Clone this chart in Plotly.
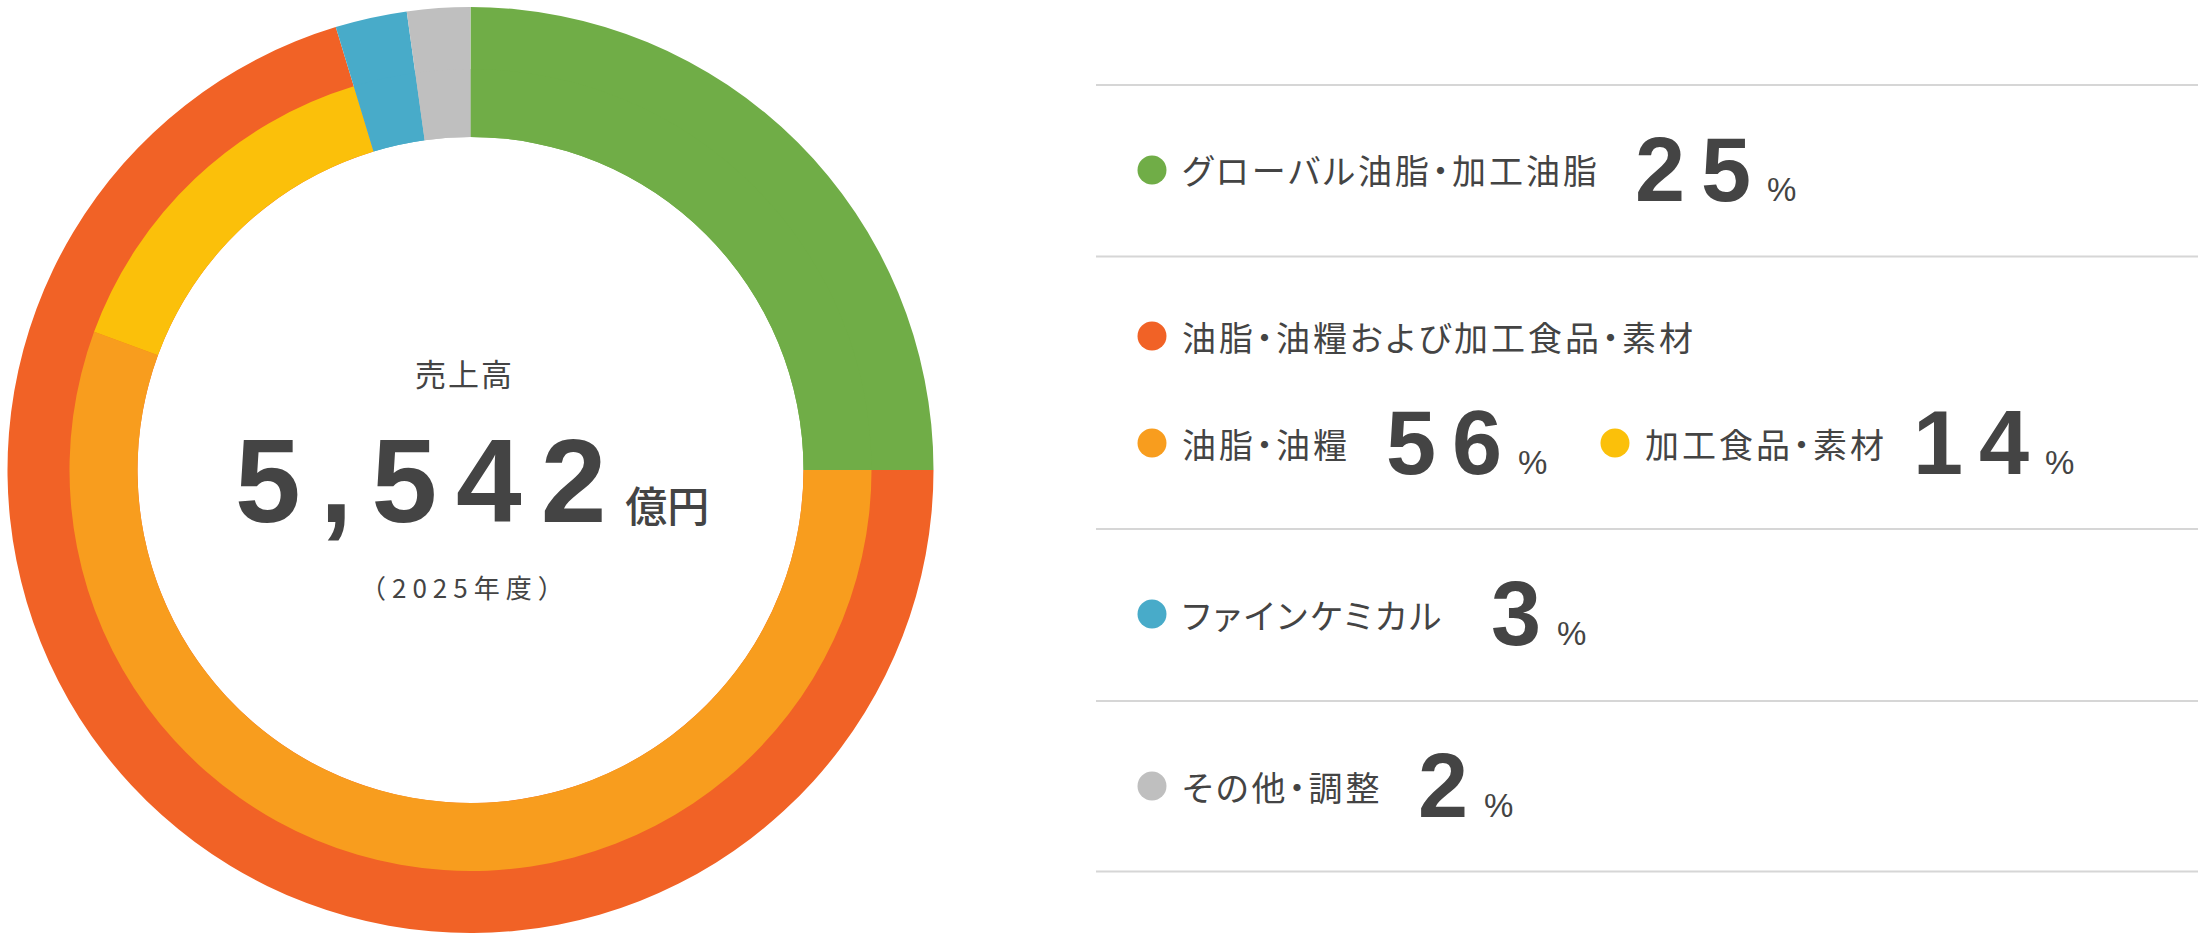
import plotly.graph_objects as go

# ---------------- data ----------------
inner_labels = ["グローバル油脂・加工油脂", "油脂・油糧", "加工食品・素材", "ファインケミカル", "その他・調整"]
inner_values = [25.0, 55.6, 14.7, 2.5, 2.2]
inner_colors = ["#70AD47", "#F89D1E", "#FBC00A", "#48ABC9", "#BFBFBF"]

outer_labels = ["グローバル油脂・加工油脂", "油脂・油糧および加工食品・素材", "ファインケミカル", "その他・調整"]
outer_values = [25.0, 70.3, 2.5, 2.2]
outer_colors = ["#70AD47", "#F16226", "#48ABC9", "#BFBFBF"]

legend_names = ["グローバル油脂・加工油脂", "油脂・油糧および加工食品・素材", "油脂・油糧",
                "加工食品・素材", "ファインケミカル", "その他・調整"]
legend_pct = ["25", "", "56", "14", "3", "2"]
legend_colors = ["#70AD47", "#F16226", "#F89D1E", "#FBC00A", "#48ABC9", "#BFBFBF"]

center_title = "売上高"
center_total = "5,542"
center_unit = "億円"
center_year = "（2025年度）"

# ---------------- layout constants ----------------
W, H = 2198, 940
CX, CY = 470.5, 470
R_OUT, R_MID, R_IN = 463, 401, 333
TXT = "#444444"
JP = "Noto Sans CJK JP"
NUM = "Liberation Sans"


def fx(x):
    return x / W


def fy(y):
    return 1 - y / H


def dom(r):
    return dict(x=[fx(CX - r), fx(CX + r)], y=[fy(CY + r), fy(CY - r)])


fig = go.Figure()
fig.add_trace(go.Pie(
    labels=outer_labels, values=outer_values, marker=dict(colors=outer_colors, line=dict(width=0)),
    hole=R_IN / R_OUT, domain=dom(R_OUT), sort=False, direction="clockwise", rotation=0,
    textinfo="none", hoverinfo="skip", showlegend=False))
fig.add_trace(go.Pie(
    labels=inner_labels, values=inner_values, marker=dict(colors=inner_colors, line=dict(width=0)),
    hole=R_IN / R_MID, domain=dom(R_MID), sort=False, direction="clockwise", rotation=0,
    textinfo="none", hoverinfo="skip", showlegend=False))

shapes = []
annotations = []

# divider lines
for ly in [85, 256.5, 529, 701, 871.5]:
    shapes.append(dict(type="line", xref="paper", yref="paper", x0=fx(1096), x1=1,
                       y0=fy(ly), y1=fy(ly), line=dict(color="#D6D6D6", width=2)))

LABEL_STYLE = "letter-spacing:3px;font-feature-settings:'palt'"

# legend rows: marker centre, number x
rows = [
    (1152, 170, 1634),
    (1152, 336, None),
    (1152, 443, 1385),
    (1615, 443, 1912),
    (1152, 614, 1490),
    (1152, 786, 1417),
]
RAD = 14.5
for (cx, cy, nx), name, pct, col in zip(rows, legend_names, legend_pct, legend_colors):
    shapes.append(dict(type="circle", xref="paper", yref="paper",
                       x0=fx(cx - RAD), x1=fx(cx + RAD), y0=fy(cy + RAD), y1=fy(cy - RAD),
                       fillcolor=col, line=dict(width=0)))
    annotations.append(dict(
        xref="paper", yref="paper", x=fx(cx + 29), y=fy(cy), xanchor="left", yanchor="middle",
        showarrow=False, borderpad=0,
        text=f'<span style="{LABEL_STYLE}">{name}</span>',
        font=dict(family=JP, size=34, color=TXT)))
    if pct:
        base = cy + 32
        annotations.append(dict(
            xref="paper", yref="paper", x=fx(nx), y=fy(base + 0.212 * 90), xanchor="left",
            yanchor="bottom", showarrow=False, borderpad=0,
            text=(f'<span style="letter-spacing:16px"><b>{pct}</b></span>'
                  f'<span style="font-size:33px;font-family:\'{NUM}\'">%</span>'),
            font=dict(family=NUM, size=90, color=TXT)))

# centre texts
annotations.append(dict(
    xref="paper", yref="paper", x=fx(464), y=fy(372), xanchor="center", yanchor="middle",
    showarrow=False, borderpad=0,
    text=f'<span style="letter-spacing:2px">{center_title}</span>',
    font=dict(family=JP, size=31, color=TXT)))
annotations.append(dict(
    xref="paper", yref="paper", x=fx(234), y=fy(523 + 0.212 * 118), xanchor="left", yanchor="bottom",
    showarrow=False, borderpad=0,
    text=(f'<span style="letter-spacing:19px"><b>{center_total}</b></span>'
          f'<span style="font-size:42px;font-family:\'{JP}\';font-weight:500">{center_unit}</span>'),
    font=dict(family=NUM, size=118, color=TXT)))
annotations.append(dict(
    xref="paper", yref="paper", x=fx(465), y=fy(586), xanchor="center", yanchor="middle",
    showarrow=False, borderpad=0,
    text=f'<span style="letter-spacing:6px">{center_year}</span>',
    font=dict(family=JP, size=26, color=TXT)))

fig.update_layout(
    width=W, height=H, margin=dict(l=0, r=0, t=0, b=0),
    paper_bgcolor="white", plot_bgcolor="white",
    shapes=shapes, annotations=annotations, showlegend=False)

fig.write_html("out.html")
